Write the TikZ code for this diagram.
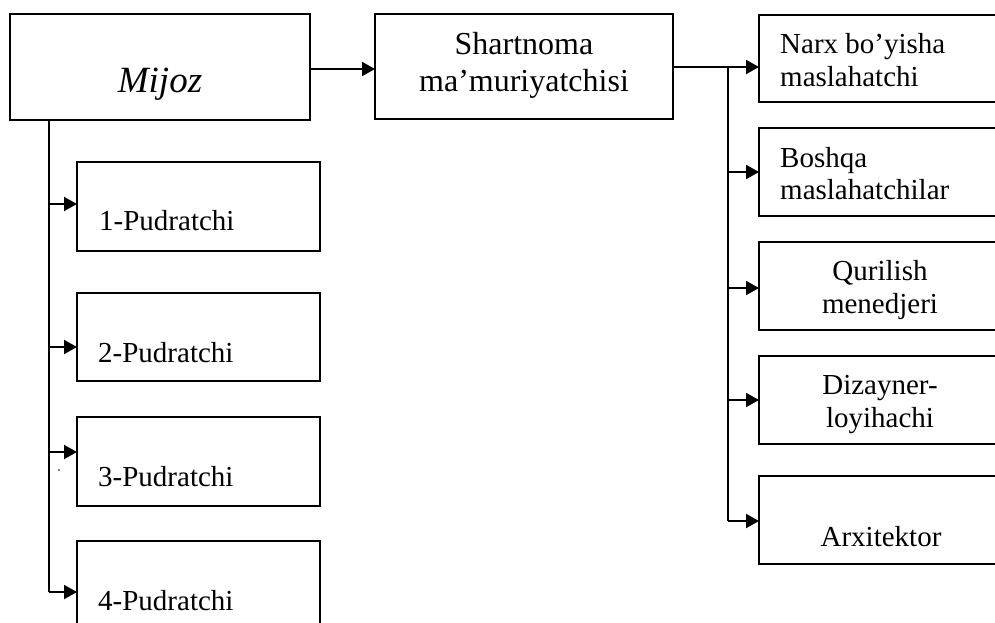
\documentclass[tikz,border=0pt]{standalone}
\usepackage{fontspec}
\setmainfont{Liberation Serif}
\usetikzlibrary{arrows.meta}
\begin{document}
\begin{tikzpicture}[x=1pt,y=-1pt,
  box/.style={draw, line width=1.2pt, inner sep=0pt, outer sep=0pt, rectangle},
  conn/.style={line width=2pt},
  arr/.style={conn, -{Triangle[length=13pt,width=14pt]}},
  ltxt/.style={inner sep=0pt, anchor=base west, font=\fontsize{29}{33}\selectfont},
  ctxt/.style={inner sep=0pt, anchor=base, font=\fontsize{29}{33}\selectfont},
  btxt/.style={inner sep=0pt, anchor=base, font=\fontsize{32}{37}\selectfont}]
\clip (0,0) rectangle (995,622);
% boxes
\node[box, minimum width=300pt, minimum height=106pt] (mijoz) at (160,67) {};
\node[box, minimum width=298pt, minimum height=105pt] (shart) at (524,66.5) {};
\node[box, minimum width=241pt, minimum height=87pt] (narx) at (879.5,58.5) {};
\node[box, minimum width=241pt, minimum height=88pt] (bosh) at (879.5,172) {};
\node[box, minimum width=241pt, minimum height=88pt] (quril) at (879.5,286) {};
\node[box, minimum width=241pt, minimum height=88pt] (dizay) at (879.5,400) {};
\node[box, minimum width=241pt, minimum height=88pt] (arxit) at (879.5,520) {};
\node[box, minimum width=243pt, minimum height=89pt] (p1) at (198.5,206.5) {};
\node[box, minimum width=243pt, minimum height=88pt] (p2) at (198.5,337) {};
\node[box, minimum width=243pt, minimum height=89pt] (p3) at (198.5,461.5) {};
\node[box, minimum width=243pt, minimum height=89pt] (p4) at (198.5,585.5) {};
% texts
\node[inner sep=0pt, anchor=base, font=\itshape\fontsize{37}{42}\selectfont] (tmijoz) at (160,92) {Mijoz};
\node[btxt] (tsh1) at (524,54) {Shartnoma};
\node[btxt] (tsh2) at (524,91) {ma’muriyatchisi};
\node[ltxt] (tn1) at (780,53) {Narx bo’yisha};
\node[ltxt] (tn2) at (780,86) {maslahatchi};
\node[ltxt] (tb1) at (780,167) {Boshqa};
\node[ltxt] (tb2) at (780,199) {maslahatchilar};
\node[ctxt] (tq1) at (880,280) {Qurilish};
\node[ctxt] (tq2) at (880,313) {menedjeri};
\node[ctxt] (td1) at (880,394) {Dizayner-};
\node[ctxt] (td2) at (880,427) {loyihachi};
\node[ctxt] (ta1) at (881,546) {Arxitektor};
\node[ltxt] (tp1) at (99,230) {1-Pudratchi};
\node[ltxt] (tp2) at (98,362) {2-Pudratchi};
\node[ltxt] (tp3) at (98,486) {3-Pudratchi};
\node[ltxt] (tp4) at (98,610) {4-Pudratchi};
% connectors
\coordinate (m0) at (0,69);
\draw[arr] (mijoz.east |- m0) -- (shart.west |- m0);
\coordinate (rb0) at (728,67);
\coordinate (rb1) at (728,172);
\coordinate (rb2) at (728,288);
\coordinate (rb3) at (728,400);
\coordinate (rb4) at (728,521);
\draw[arr] (shart.east |- rb0) -- (narx.west |- rb0);
\draw[conn] (rb0) -- (rb4);
\draw[arr] (rb1) -- (rb1 -| bosh.west);
\draw[arr] (rb2) -- (rb2 -| quril.west);
\draw[arr] (rb3) -- (rb3 -| dizay.west);
\draw[arr] (rb4) -- (rb4 -| arxit.west);
\coordinate (lb1) at (49,204);
\coordinate (lb2) at (49,347);
\coordinate (lb3) at (49,452);
\coordinate (lb4) at (49,592);
\draw[conn] (lb4 |- mijoz.south) -- (lb4);
\draw[arr] (lb1) -- (lb1 -| p1.west);
\draw[arr] (lb2) -- (lb2 -| p2.west);
\draw[arr] (lb3) -- (lb3 -| p3.west);
\draw[arr] (lb4) -- (lb4 -| p4.west);
\fill (59,470) circle (0.9pt);
\end{tikzpicture}
\end{document}
